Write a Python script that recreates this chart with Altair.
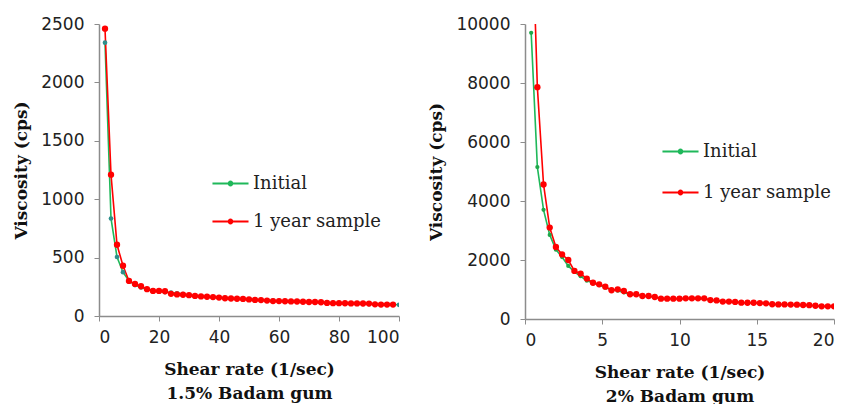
import altair as alt
import pandas as pd

# ---- Data: 1.5% Badam gum ----
series_names = ["Initial", "1 year sample"]
left_x_initial = [2, 4, 6, 8, 10, 12, 14, 16, 18, 20, 22, 24, 26, 28, 30, 32, 34, 36, 38, 40,
                  42, 44, 46, 48, 50, 52, 54, 56, 58, 60, 62, 64, 66, 68, 70, 72, 74, 76, 78, 80,
                  82, 84, 86, 88, 90, 92, 94, 96, 98, 100]
left_initial = [2340, 835, 505, 375, 300, 265, 245, 230, 220, 210, 205, 200, 195, 188, 180, 172, 166, 162, 160, 158,
                155, 150, 148, 145, 142, 140, 138, 135, 132, 130, 128, 126, 124, 122, 120, 118, 116, 114, 112, 110,
                108, 106, 104, 103, 102, 101, 100, 99, 98, 96]
left_x_year = left_x_initial[:-1]
left_year = [2460, 1210, 610, 430, 300, 275, 255, 230, 215, 215, 212, 190, 185, 182, 178, 172, 168, 165, 162, 158,
             152, 150, 148, 146, 142, 138, 136, 132, 128, 128, 126, 125, 124, 122, 120, 120, 118, 112, 110, 110,
             109, 108, 108, 107, 106, 100, 98, 98, 98]

# ---- Data: 2% Badam gum ----
right_x = [0.4, 0.8, 1.2, 1.6, 2.0, 2.4, 2.8, 3.2, 3.6, 4.0, 4.4, 4.8, 5.2, 5.6, 6.0, 6.4, 6.8, 7.2, 7.6, 8.0,
           8.4, 8.8, 9.2, 9.6, 10.0, 10.4, 10.8, 11.2, 11.6, 12.0, 12.4, 12.8, 13.2, 13.6, 14.0, 14.4, 14.8, 15.2, 15.6, 16.0,
           16.4, 16.8, 17.2, 17.6, 18.0, 18.4, 18.8, 19.2, 19.6, 20.0]
right_initial = [9700, 5150, 3700, 2850, 2350, 2100, 1800, 1600, 1450, 1300, 1220, 1150, 1060, 1000, 960, 900, 830, 820, 780, 770,
                 740, 700, 690, 690, 680, 690, 690, 690, 690, 630, 620, 585, 585, 575, 550, 545, 545, 535, 525, 495,
                 490, 490, 485, 480, 470, 465, 445, 425, 425, 425]
right_year = [14500, 7860, 4560, 3100, 2440, 2190, 2000, 1630, 1540, 1370, 1230, 1175, 1095, 975, 1005, 950, 840, 840, 780, 780,
              745, 690, 690, 690, 690, 700, 700, 700, 700, 640, 630, 590, 590, 580, 555, 550, 550, 540, 530, 500,
              495, 495, 490, 485, 475, 470, 450, 430, 430, 430]


def make_df(xa, ya, xb, yb):
    return pd.concat([
        pd.DataFrame({"x": xa, "y": ya, "s": series_names[0]}),
        pd.DataFrame({"x": xb, "y": yb, "s": series_names[1]}),
    ])


left_df = make_df(left_x_initial, left_initial, left_x_year, left_year)
right_df = make_df(right_x, right_initial, right_x, right_year)

TICK_FONT = "DejaVu Sans"
TITLE_FONT = "DejaVu Serif"
AX = "#8c8c8c"

legend_path = "M-1,0H1M-0.1,0a0.1,0.1 0 1,0 0.2,0a0.1,0.1 0 1,0 -0.2,0"


def panel(df, xmax, xvals, ymax, yvals, subtitle, w, h, line_colors, pt_colors, pt_sizes, lx, ly, rowpad):
    xenc = alt.X("x:Q", scale=alt.Scale(domain=[0, xmax], nice=False),
                 axis=alt.Axis(values=xvals, format="d", title=["Shear rate (1/sec)", subtitle],
                               titleLineHeight=24, titlePadding=16, labelPadding=8))
    yenc = alt.Y("y:Q", scale=alt.Scale(domain=[0, ymax], nice=False),
                 axis=alt.Axis(values=yvals, format="d", title="Viscosity (cps)", titlePadding=10, labelPadding=10))
    line = alt.Chart(df).mark_line(strokeWidth=1.6, clip=True).encode(
        x=xenc, y=yenc,
        color=alt.Color("s:N", sort=series_names,
                        scale=alt.Scale(domain=series_names, range=line_colors),
                        legend=alt.Legend(title=None, orient="none", legendX=lx, legendY=ly,
                                          symbolType=legend_path, symbolSize=1300,
                                          symbolStrokeWidth=2.2, rowPadding=rowpad,
                                          labelFont=TITLE_FONT, labelFontSize=18,
                                          labelColor="#222", labelOffset=3)),
        order=alt.Order("x:Q"),
    )
    layers = [line]
    for name, col, sz in zip(series_names, pt_colors, pt_sizes):
        layers.append(
            alt.Chart(df).transform_filter(alt.datum.s == name)
            .mark_point(filled=True, opacity=1, clip=True, fill=col, size=sz)
            .encode(x="x:Q", y="y:Q")
        )
    return alt.layer(*layers).properties(width=w, height=h)


left = panel(left_df, 100, [0, 20, 40, 60, 80, 100], 2500, [0, 500, 1000, 1500, 2000, 2500],
             "1.5% Badam gum", 300, 292, ["#1fb85a", "#ff0000"], ["#2e8f8c", "#ff0000"], [22, 40],
             112, 140, 9)
right = panel(right_df, 20, [0, 5, 10, 15, 20], 10000, [0, 2000, 4000, 6000, 8000, 10000],
              "2% Badam gum", 309, 295, ["#1fb85a", "#ff0000"], ["#1fa84a", "#ff0000"], [18, 40],
              136, 108, 12)

chart = alt.hconcat(left, right, spacing=27).resolve_scale(color="independent").resolve_legend(
    color="independent"
).properties(
    padding={"left": 12, "top": 15, "right": 0, "bottom": 0},
).configure_view(stroke=None).configure_axis(
    grid=False, domainColor=AX, tickColor=AX, tickSize=5, domainWidth=1.5,
    labelFont=TICK_FONT, labelFontSize=17, labelColor="#222",
    titleFont=TITLE_FONT, titleFontSize=17, titleFontWeight="bold", titleColor="#111",
).configure_legend(
    labelLimit=300, symbolSize=1300,
)

chart.save("out.html", embed_options={"renderer": "svg", "actions": False})
